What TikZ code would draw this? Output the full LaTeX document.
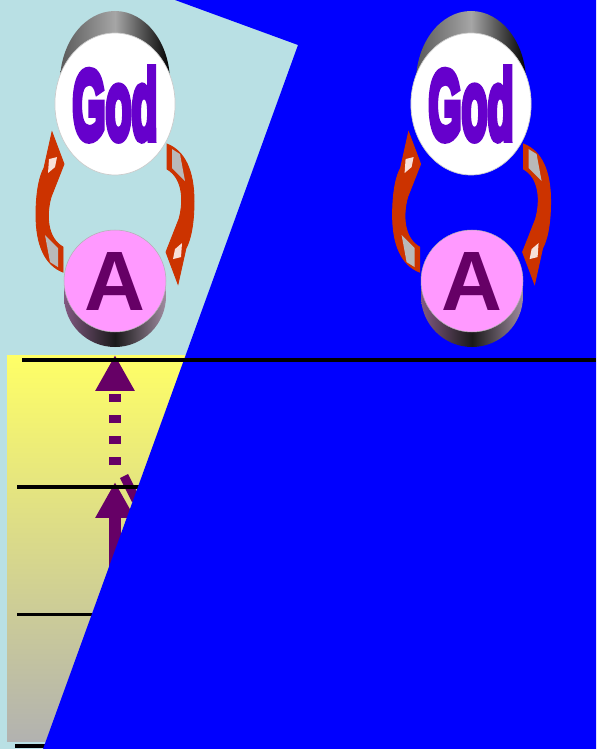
\documentclass[tikz,border=0pt]{standalone}
\usepackage{fontspec}
\setmainfont{Liberation Sans}
\newfontfamily\godfont[FakeBold=8]{Liberation Sans}
\usepackage{graphicx}
\usepackage{xcolor}
\usepackage{tikz}
\usetikzlibrary{calc,arrows.meta,shapes.geometric}
\definecolor{panelcian}{RGB}{185,224,228}
\definecolor{fondoazul}{RGB}{0,0,255}
\definecolor{godmorado}{RGB}{102,0,204}
\definecolor{arrowplum}{RGB}{102,0,102}
\definecolor{selfrosa}{RGB}{255,153,255}
\definecolor{looprojo}{RGB}{204,51,0}
\definecolor{levelyellow}{RGB}{255,255,102}
\definecolor{levelgray}{RGB}{178,178,176}
\definecolor{rimleft}{RGB}{130,90,130}
\definecolor{rimright}{RGB}{160,140,160}

\tikzset{
  godface/.style={ellipse, fill=white, draw=gray!40, line width=0.4pt,
    minimum width=2.32cm, minimum height=2.84cm, inner sep=0pt, text=godmorado},
  selfface/.style={circle, fill=selfrosa, draw=gray!60, line width=0.3pt,
    minimum size=2.04cm, inner sep=0pt, text=arrowplum},
  godrim/.style={left color=black!65, right color=black, middle color=black!35},
  selfrim/.style={left color=rimleft, right color=rimright, middle color=black!90},
  levelline/.style={black, line width=0.075cm},
  plumarrow/.style={arrowplum, line width=0.24cm, -{Triangle[length=0.72cm,width=0.74cm]}},
  pics/bentloop/.style={code={
    \filldraw[looprojo, line width=0.5pt] (-52,64) .. controls (-70,57) and (-79,37) .. (-79,7)
      .. controls (-79,-18) and (-75,-33) .. (-71,-40) -- (-63,-76) -- (-51,-44) -- (-64,-11)
      .. controls (-69,7) and (-68,30) .. (-52,39) -- cycle;
    \fill[gray!55] (-70,27) -- (-57,40) -- (-57,59) -- (-65,54) -- cycle;
    \fill[white!85!looprojo] (-66,-49) -- (-58,-51) -- (-60,-41) -- (-67,-35) -- cycle;
  }}
}

\begin{document}
\begin{tikzpicture}[x=0.02cm, y=-0.02cm, >=Stealth]
    \useasboundingbox (0,0) rectangle (596,749);
    % fondo y bloque de niveles
    \fill[panelcian] (0,0) rectangle (596,749);
    \shade[top color=levelyellow, bottom color=levelgray] (7,355) rectangle (300,741);
    % flechas moradas hacia los niveles
    \coordinate (dashfoot) at (115,465);
    \coordinate (lvlone) at (115,355);
    \coordinate (solidfoot) at (115,640);
    \coordinate (lvltwo) at (115,482);
    \draw[plumarrow, dash pattern=on 0.16cm off 0.26cm] (dashfoot) -- (lvlone);
    \draw[plumarrow] (solidfoot) -- (lvltwo);
    \draw[arrowplum, line width=0.18cm] (124,476) -- (136,500);
    \draw[levelline] (17,487) -- (300,487);
    \draw[levelline] (17,614.5) -- (300,614.5);
    \draw[levelline] (15,746) -- (300,746);
    % zona azul encima
    \fill[fondoazul] (175,0) -- (596,0) -- (596,749) -- (43,749) -- (298,45) -- cycle;
    \draw[levelline] (22,360) -- (596,360);
    % pareja izquierda
    \shade[godrim] (115,82) ellipse (55 and 71);
    \node[godface] (godL) at (115,104) {\resizebox{1.70cm}{1.42cm}{\godfont\bfseries God}};
    \shade[selfrim] (115,296) circle (51);
    \node[selfface] (selfL) at (115,281) {\raisebox{-0.06cm}{\resizebox{!}{1.16cm}{\bfseries A}}};
    \pic at ($(godL)!0.588!(selfL)$) {bentloop};
    \pic[rotate=180] at ($(godL)!0.588!(selfL)$) {bentloop};
    % pareja derecha
    \shade[godrim] (471,82) ellipse (55 and 71);
    \node[godface] (godR) at (471,104) {\resizebox{1.70cm}{1.42cm}{\godfont\bfseries God}};
    \shade[selfrim] (472,296) circle (51);
    \node[selfface] (selfR) at (472,281) {\raisebox{-0.06cm}{\resizebox{!}{1.16cm}{\bfseries A}}};
    \pic at ($(godR)!0.588!(selfR)$) {bentloop};
    \pic[rotate=180] at ($(godR)!0.588!(selfR)$) {bentloop};
\end{tikzpicture}
\end{document}
